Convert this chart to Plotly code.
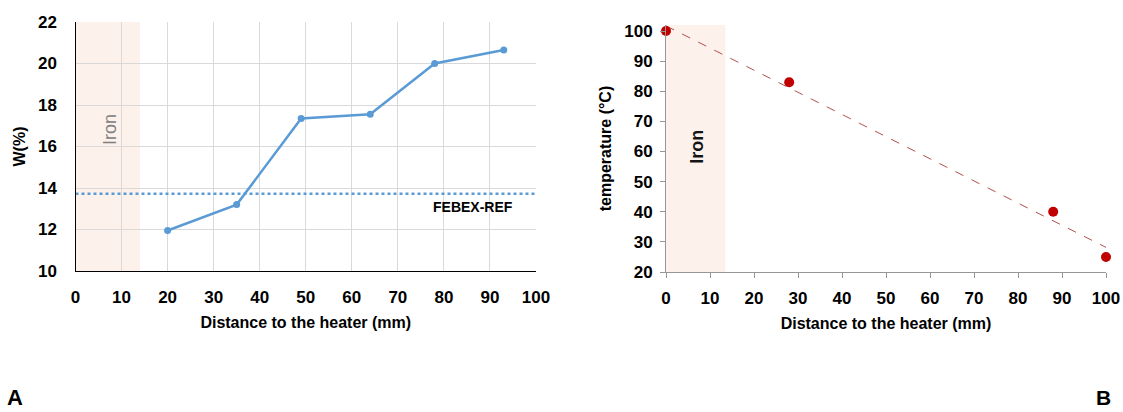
import numpy as np
import plotly.graph_objects as go

# ---- data ----
w_distance = [20, 35, 49, 64, 78, 93]
w_values = [11.95, 13.2, 17.35, 17.55, 20.0, 20.65]
febex_ref = 13.72
t_distance = [0, 28, 88, 100]
t_values = [100, 83, 40, 25]
iron_width = 14
iron_width_b = 13.5
x_ticks = [0, 10, 20, 30, 40, 50, 60, 70, 80, 90, 100]

FONT = "Arial, Liberation Sans, sans-serif"
BLUE = "rgb(91,155,213)"
RED = "rgb(192,0,0)"
BAND = "rgb(253,241,235)"

W, H = 1123, 412


def px(x):
    return x / W


def py(y):
    return 1 - y / H


fig = go.Figure()

# Panel A
fig.add_trace(go.Scatter(x=[0, 100], y=[febex_ref, febex_ref], mode="lines",
                         line=dict(color=BLUE, width=2.5, dash="dot"),
                         xaxis="x", yaxis="y", showlegend=False, hoverinfo="skip"))
fig.add_trace(go.Scatter(x=w_distance, y=w_values, mode="lines+markers",
                         line=dict(color=BLUE, width=2.5),
                         marker=dict(color=BLUE, size=7),
                         xaxis="x", yaxis="y", showlegend=False))

# Panel B
coef = np.polyfit(t_distance, t_values, 1)
trend_x = [0, 100]
trend_y = [float(np.polyval(coef, v)) for v in trend_x]
fig.add_trace(go.Scatter(x=trend_x, y=trend_y, mode="lines",
                         line=dict(color="rgba(170,60,60,0.9)", width=1, dash="dash"),
                         xaxis="x2", yaxis="y2", showlegend=False, hoverinfo="skip"))
fig.add_trace(go.Scatter(x=t_distance, y=t_values, mode="markers",
                         marker=dict(color=RED, size=10),
                         xaxis="x2", yaxis="y2", showlegend=False, cliponaxis=False))

tickfont = dict(family=FONT, size=17, color="black", weight="bold")
titlefont = dict(family=FONT, size=16, color="black", weight="bold")

fig.update_layout(
    width=W, height=H,
    margin=dict(l=0, r=0, t=0, b=0),
    paper_bgcolor="white", plot_bgcolor="white",
    xaxis=dict(domain=[px(75.5), px(536)], range=[0, 100], tickvals=x_ticks, automargin=False,
               showgrid=True, gridcolor="rgb(217,217,217)", gridwidth=1,
               showline=True, linecolor="black", linewidth=1.2, mirror=False,
               ticks="", ticklabelstandoff=10, tickfont=tickfont, zeroline=False,
               title=dict(text="Distance to the heater (mm)", font=titlefont, standoff=11),
               anchor="y"),
    yaxis=dict(domain=[py(271), py(22)], range=[10, 22], dtick=2, automargin=False,
               showgrid=True, gridcolor="rgb(217,217,217)", gridwidth=1,
               showline=True, linecolor="black", linewidth=1.2,
               ticks="", ticklabelstandoff=14, tickfont=tickfont, zeroline=False,
               title=dict(text="W(%)", font=titlefont, standoff=8),
               anchor="x"),
    xaxis2=dict(domain=[px(666), px(1106)], range=[0, 100], tickvals=x_ticks, automargin=False,
                showgrid=False, showline=True, linecolor="rgb(150,150,150)", linewidth=1,
                ticks="outside", ticklen=5, tickcolor="rgb(150,150,150)",
                ticklabelstandoff=6, tickfont=tickfont, zeroline=False,
                title=dict(text="Distance to the heater (mm)", font=titlefont, standoff=10),
                anchor="y2"),
    yaxis2=dict(domain=[py(272), py(25)], range=[20, 102], tickvals=[20, 30, 40, 50, 60, 70, 80, 90, 100],
                automargin=False,
                showgrid=False, showline=True, linecolor="rgb(150,150,150)", linewidth=1,
                ticks="outside", ticklen=5, tickcolor="rgb(150,150,150)",
                ticklabelstandoff=4, tickfont=tickfont, zeroline=False,
                title=dict(text="temperature (°C)", font=titlefont, standoff=8),
                anchor="x2"),
    shapes=[
        dict(type="rect", xref="x", yref="y", x0=0, x1=iron_width, y0=10, y1=22,
             fillcolor=BAND, line=dict(width=0), layer="below"),
        dict(type="rect", xref="x2", yref="y2", x0=0, x1=iron_width_b, y0=20, y1=102,
             fillcolor=BAND, line=dict(width=0), layer="below"),
    ],
    annotations=[
        dict(text="Iron", xref="x", yref="y", x=7.5, y=16.8, showarrow=False, textangle=-90,
             font=dict(family=FONT, size=18, color="rgb(128,128,128)")),
        dict(text="FEBEX-REF", xref="x", yref="y", x=86.4, y=13.1, showarrow=False,
             font=dict(family=FONT, size=14, color="black", weight="bold")),
        dict(text="Iron", xref="x2", yref="y2", x=7.0, y=61.5, showarrow=False, textangle=-90,
             font=dict(family=FONT, size=18, color="rgb(20,20,20)", weight="bold")),
        dict(text="A", xref="paper", yref="paper", x=px(15), y=py(397), showarrow=False,
             xanchor="center", yanchor="middle",
             font=dict(family=FONT, size=22, color="black", weight="bold")),
        dict(text="B", xref="paper", yref="paper", x=px(1103), y=py(397.5), showarrow=False,
             xanchor="center", yanchor="middle",
             font=dict(family=FONT, size=21, color="black", weight="bold")),
    ],
)

fig.write_html("out.html", config={"displayModeBar": False},
               post_script="document.body.style.margin='0';document.body.style.overflow='hidden';")
